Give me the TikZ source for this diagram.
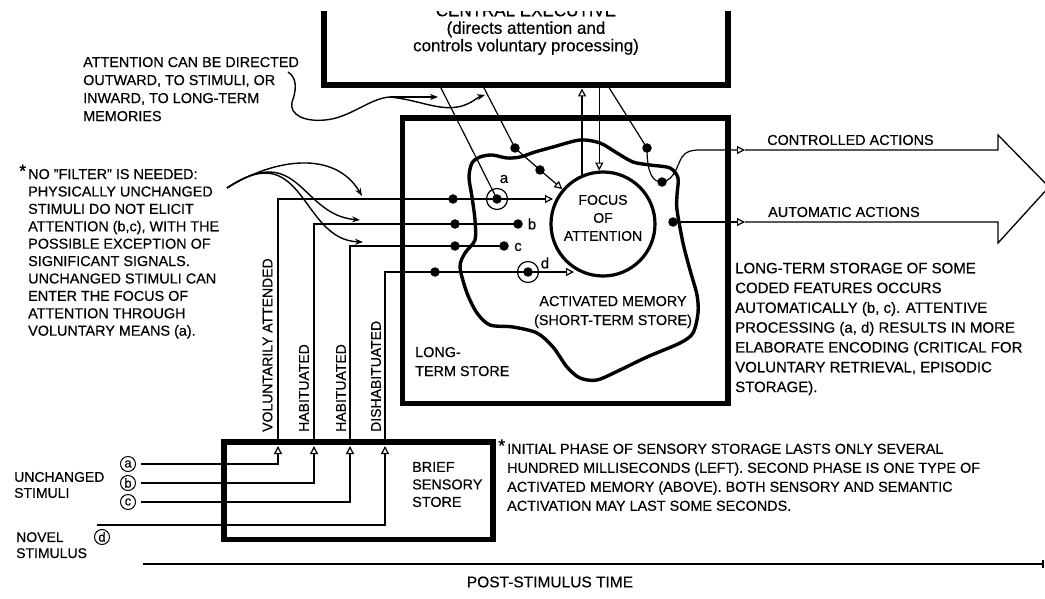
\documentclass[tikz,border=0pt]{standalone}
\usepackage{fontspec}
\setmainfont{Liberation Sans}[FakeBold=0.4]
\usetikzlibrary{arrows.meta,positioning,calc}
\tikzset{
  heavybox/.style={draw=black, line width=5.5pt, inner sep=0pt},
  thinline/.style={line width=1.2pt},
  openarrow/.style={-{Triangle[open,length=8pt,width=8pt]}, line width=1.2pt},
  curvearrow/.style={-{Stealth[length=8pt,width=6pt]}, line width=1.4pt},
  outline/.style={line width=1.3pt, line join=miter},
  blobline/.style={line width=3.4pt},
  dot/.style={circle, fill=black, minimum size=9.5pt, inner sep=0pt},
  ring/.style={circle, draw=black, line width=1.2pt, minimum size=21pt, inner sep=0pt},
  circled/.style={circle, draw=black, line width=1pt, minimum size=15pt, inner sep=0pt, font=\fontsize{13}{13}\selectfont},
  note/.style={align=left, inner sep=0pt, anchor=north west, font=\fontsize{14.4}{17.4}\selectfont}
}
\newcommand{\starmark}{\makebox[0pt][r]{\smash{\raisebox{2pt}{\fontsize{18}{18}\selectfont *}}\hspace{2pt}}}

\begin{document}
\begin{tikzpicture}[x=1pt, y=-1pt,
  lbl/.style={inner sep=0pt, font=\fontsize{14.4}{17.5}\selectfont}
]
\useasboundingbox (0,0) rectangle (1045,599);

% central executive, cut off at the top
\begin{scope}
\clip (0,11.5) rectangle (1045,599);
\node[heavybox, line width=6pt, minimum width=404.5pt, minimum height=160pt] (exec) at (525.75,5.5) {};
\node[anchor=north, align=center, inner sep=0pt, font=\fontsize{17}{17.5}\selectfont] (exectext) at (526,4.2) {CENTRAL EXECUTIVE\\(directs attention and\\controls voluntary processing)};
\end{scope}

% stores
\node[heavybox, minimum width=325.5pt, minimum height=285.5pt] (ltm) at (565.25,260.75) {};
\node[heavybox, minimum width=269pt, minimum height=97.5pt] (sensory) at (358.5,490.75) {};
\draw[blobline] plot[smooth cycle, tension=0.5] coordinates {
  (469,177) (472,163) (480,157) (492,155) (507,158) (520,157) (535,152) (553,147)
  (580,140) (600,143) (617,153) (633,162) (650,165) (670,168) (678,178) (677,195)
  (677,210) (683,243) (690,270) (697,295) (698,313) (693,333) (680,343) (647,357)
  (620,370) (597,380) (580,378) (567,367) (553,347) (537,333) (513,327) (490,325)
  (477,313) (467,293) (460,267) (465,253) (475,240) (475,220) (472,197)};
\node[circle, draw=black, line width=3.2pt, minimum size=104pt, inner sep=0pt] (focus) at (603,224) {};
\node[lbl, anchor=north, align=center, font=\fontsize{14}{18}\selectfont] (focustext) at (603,194.8) {FOCUS\\OF\\ATTENTION};
\node[lbl, anchor=north, align=center, font=\fontsize{14.4}{19}\selectfont] (amtext) at (613,295.8) {ACTIVATED MEMORY\\(SHORT-TERM STORE)};
\node[lbl, anchor=north west, align=left, font=\fontsize{14.4}{19}\selectfont] (ltmtext) at (415,346.8) {LONG-\\TERM STORE};
\node[lbl, anchor=north west, align=left, font=\fontsize{14.4}{17.5}\selectfont] (senstext) at (412,461.8) {BRIEF\\SENSORY\\STORE};

% stimuli
\node[lbl, anchor=north west, align=left, font=\fontsize{14}{16}\selectfont] (unch) at (14,471.8) {UNCHANGED\\STIMULI};
\node[lbl, anchor=north west, align=left, font=\fontsize{14}{16}\selectfont] (novel) at (16,532) {NOVEL\\STIMULUS};
\node[circled] (sta) at (128,464) {a};
\node[circled] (stb) at (128,483) {b};
\node[circled] (stc) at (128,502) {c};
\node[circled] (std) at (102,537) {d};
\coordinate (ina) at (278,446);
\coordinate (inb) at (314,446);
\coordinate (inc) at (350,446);
\coordinate (ind) at (385,446);
\coordinate (dstart) at (97,525);
\draw[openarrow] ([xshift=5pt]sta.east) -- (sta -| ina) -- (ina);
\draw[openarrow] ([xshift=5pt]stb.east) -- (stb -| inb) -- (inb);
\draw[openarrow] ([xshift=5pt]stc.east) -- (stc -| inc) -- (inc);
\draw[openarrow] (dstart) -- (dstart -| ind) -- (ind);

% items in memory
\node[dot] (dA1) at (453,199) {};
\node[ring] (ringA) at (497,199) {};
\node[dot] (dA2) at (ringA) {};
\node[dot] (dB1) at (455,224) {};
\node[dot] (dB2) at (518,224) {};
\node[dot] (dC1) at (455,246) {};
\node[dot] (dC2) at (504,246) {};
\node[dot] (dD1) at (435,272) {};
\node[ring] (ringD) at (528,272) {};
\node[dot] (dD2) at (ringD) {};
\node[dot] (m1) at (515,148) {};
\node[dot] (m2) at (540,170) {};
\node[dot] (m3) at (647,148) {};
\node[dot] (m4) at (662,182) {};
\node[dot] (mauto) at (673,222) {};
\node[lbl, font=\fontsize{15}{15}\selectfont] (la) at (504,179) {a};
\node[lbl, font=\fontsize{15}{15}\selectfont] (lb) at (532,224) {b};
\node[lbl, font=\fontsize{15}{15}\selectfont] (lc) at (518,247) {c};
\node[lbl, font=\fontsize{15}{15}\selectfont] (ld) at (545,263) {d};

% paths out of the sensory store
\coordinate (outa) at (278,442);
\coordinate (outb) at (314,442);
\coordinate (outc) at (350,442);
\coordinate (outd) at (385,442);
\coordinate (enda) at (553,199);
\coordinate (endd) at (574,272);
\draw[thinline] (outa) |- (dA1.center) -- (ringA.center);
\draw[openarrow] (ringA.center) -- (enda);
\draw[thinline] (outb) |- (dB1.center) -- (dB2.center);
\draw[thinline] (outc) |- (dC1.center) -- (dC2.center);
\draw[thinline] (outd) |- (dD1.center) -- (ringD.center);
\draw[openarrow] (ringD.center) -- (endd);
\node[lbl, rotate=90, anchor=west, font=\fontsize{14}{14}\selectfont] (lvol) at (267.5,432) {VOLUNTARILY ATTENDED};
\node[lbl, rotate=90, anchor=west, font=\fontsize{14}{14}\selectfont] (lhab1) at (304,432) {HABITUATED};
\node[lbl, rotate=90, anchor=west, font=\fontsize{14}{14}\selectfont] (lhab2) at (341,432) {HABITUATED};
\node[lbl, rotate=90, anchor=west, font=\fontsize{14}{14}\selectfont] (ldis) at (376,432) {DISHABITUATED};

% links with the central executive
\coordinate (e1) at (440,86);
\coordinate (e2) at (483,86);
\coordinate (e3) at (608,86);
\draw[thinline] (e1) -- (ringA.center);
\draw[thinline] (e2) -- (m1.center) -- (m2.center);
\draw[openarrow] (m2.center) -- (focus);
\draw[openarrow] (focus.113) -- (focus.113 |- exec.south);
\draw[openarrow] (focus.94 |- exec.south) -- (focus.94);
\draw[thinline] (e3) -- (m3.center) .. controls (647,172) and (652,182) .. (m4.center);

% actions
\coordinate (cend) at (745,150);
\coordinate (aend) at (745,222);
\draw[openarrow] (m4.center) .. controls (675,180) and (677,165) .. (682,157)
  .. controls (686,151) and (692,150) .. (700,150) -- (cend);
\draw[openarrow] (mauto.center) -- (aend);
\draw[outline] (cend) -- (998,150) -- (998,135) -- (1049,187) -- (998,243) -- (998,222) -- (aend);
\node[lbl, anchor=west] (lctrl) at (767,140) {CONTROLLED ACTIONS};
\node[lbl, anchor=west] (lauto) at (768,212) {AUTOMATIC ACTIONS};

% notes
\node[note, font=\fontsize{14.4}{18}\selectfont] (attnote) at (83,56.8) {ATTENTION CAN BE DIRECTED\\OUTWARD, TO STIMULI, OR\\INWARD, TO LONG-TERM\\MEMORIES};
\node[note] (filternote) at (28,168.8) {\starmark NO "FILTER" IS NEEDED:\\PHYSICALLY UNCHANGED\\STIMULI DO NOT ELICIT\\ATTENTION (b,c), WITH THE\\POSSIBLE EXCEPTION OF\\SIGNIFICANT SIGNALS.\\UNCHANGED STIMULI CAN\\ENTER THE FOCUS OF\\ATTENTION THROUGH\\VOLUNTARY MEANS (a).};
\node[note, font=\fontsize{15}{19.8}\selectfont] (ltmnote) at (735,262.6) {LONG-TERM STORAGE OF SOME\\CODED FEATURES OCCURS\\AUTOMATICALLY (b, c). ATTENTIVE\\PROCESSING (a, d) RESULTS IN MORE\\ELABORATE ENCODING (CRITICAL FOR\\VOLUNTARY RETRIEVAL, EPISODIC\\STORAGE).};
\node[note, font=\fontsize{14.4}{19}\selectfont] (sensnote) at (507,443.5) {\starmark INITIAL PHASE OF SENSORY STORAGE LASTS ONLY SEVERAL\\HUNDRED MILLISECONDS (LEFT). SECOND PHASE IS ONE TYPE OF\\ACTIVATED MEMORY (ABOVE). BOTH SENSORY AND SEMANTIC\\ACTIVATION MAY LAST SOME SECONDS.};

% curved pointers
\coordinate (attstart) at (288,72);
\coordinate (attsplit) at (390,97);
\coordinate (nofilter) at (227,188);
\draw[thinline, line width=1.4pt] (attstart) .. controls (298,78) and (296,92) .. (292,102)
  .. controls (289,115) and (305,122) .. (325,120) .. controls (350,118) and (370,98) .. (attsplit);
\draw[curvearrow] (attsplit) -- (438,97);
\draw[curvearrow] (attsplit) .. controls (420,100) and (440,112) .. (462,106) .. controls (472,103) and (478,97) .. (485,95);
\draw[curvearrow] (nofilter) .. controls (275,158) and (335,150) .. (362,196);
\draw[curvearrow] (nofilter) .. controls (300,140) and (300,215) .. (360,220);
\draw[curvearrow] (nofilter) .. controls (305,135) and (300,240) .. (363,242);

% time axis
\coordinate (t0) at (143,564);
\coordinate (t1) at (1043,564);
\draw[line width=1.8pt] (t0) -- (t1);
\draw[line width=1.2pt] ([yshift=-4pt]t1) -- ([yshift=4pt]t1);
\node[lbl, font=\fontsize{15.5}{15.5}\selectfont] (timelbl) at (550,582) {POST-STIMULUS TIME};
\end{tikzpicture}
\end{document}
